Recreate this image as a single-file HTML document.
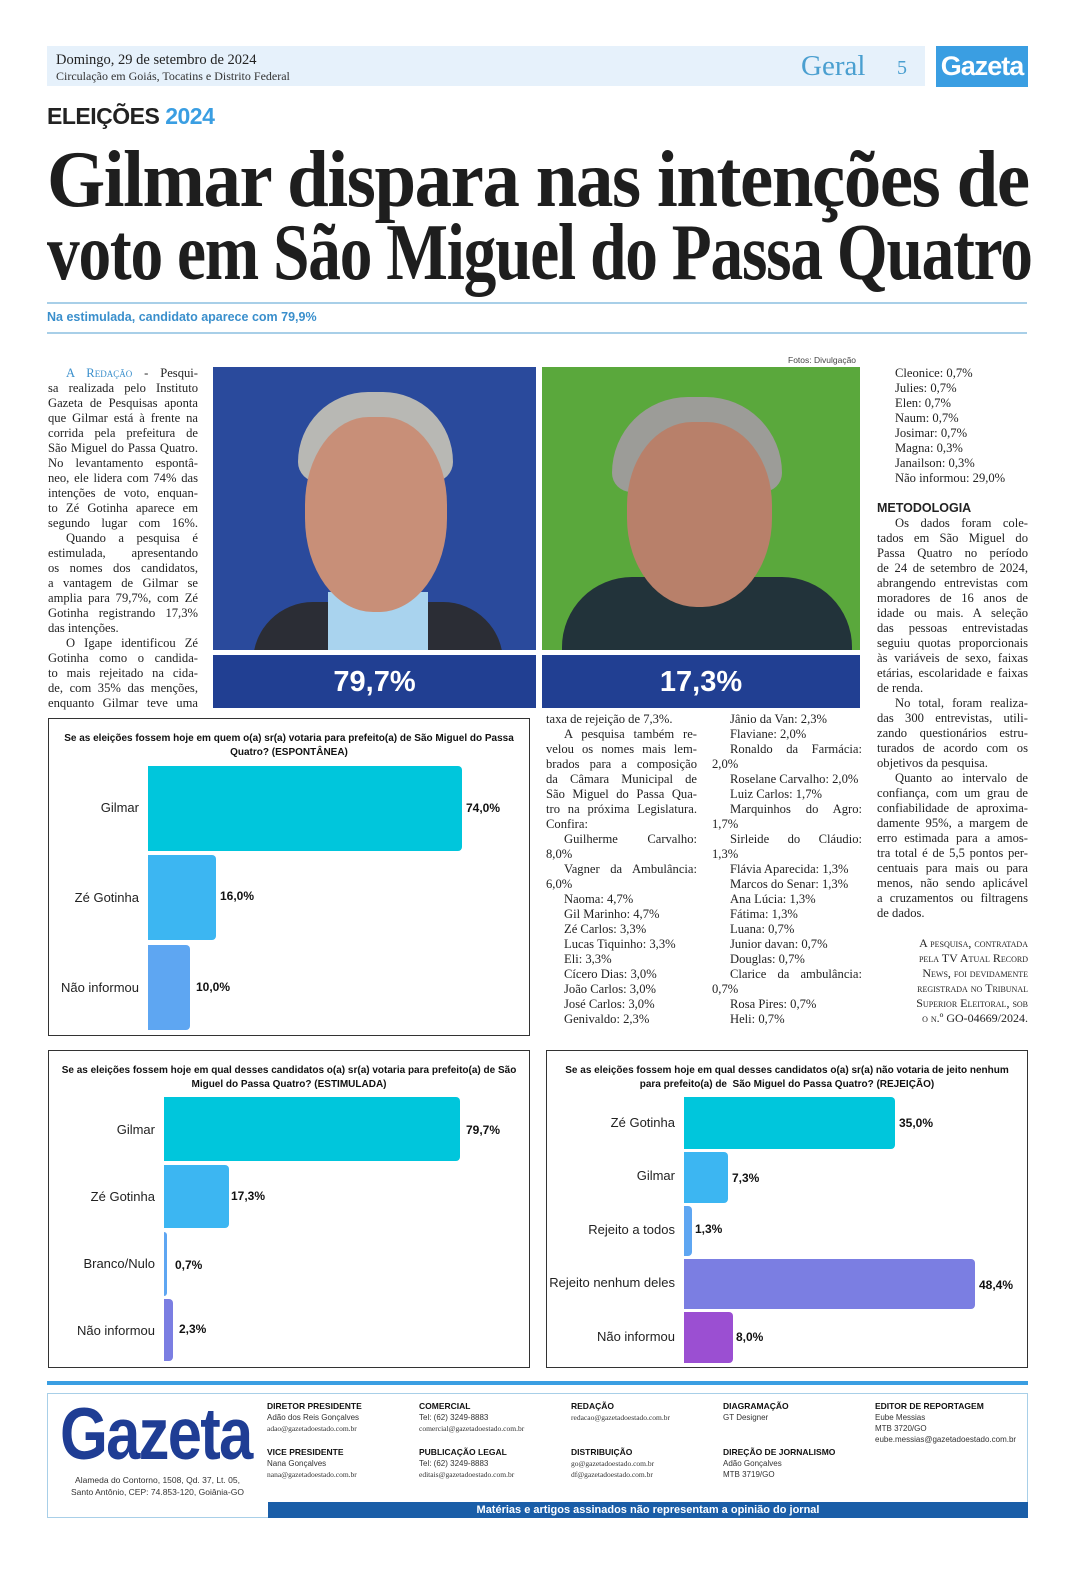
<!DOCTYPE html>
<html><head><meta charset="utf-8"><style>
*{margin:0;padding:0;box-sizing:border-box}
body{width:1080px;height:1576px;background:#fff;position:relative;overflow:hidden;font-family:"Liberation Serif",serif;color:#222}
.a{position:absolute}
.col div{height:15px;line-height:15px;font-size:12.6px;text-align:justify;text-align-last:justify;white-space:nowrap;overflow:visible}
.col div.e{text-align-last:left}
.col div.i{text-indent:18px}
.sans{font-family:"Liberation Sans",sans-serif}
.box{border:1.5px solid #333}
.ct{font-family:"Liberation Sans",sans-serif;font-weight:bold;font-size:10px;text-align:center;line-height:14px;color:#111}
.lb{font-family:"Liberation Sans",sans-serif;font-size:13px;color:#222;text-align:right}
.vl{font-family:"Liberation Sans",sans-serif;font-size:12px;font-weight:bold;color:#111}
.bar{position:absolute;border-radius:0 4px 4px 0}
.fh{font-family:"Liberation Sans",sans-serif;font-size:8.5px;font-weight:bold;color:#111;line-height:11px}
.fs{font-family:"Liberation Sans",sans-serif;font-size:8px;color:#333;line-height:11px}
.fm{font-family:"Liberation Serif",serif;font-size:7.5px;color:#333;line-height:11px}
.hl{position:absolute;left:47px;font-size:80px;font-weight:bold;line-height:80px;color:#1e1e1e;white-space:nowrap;letter-spacing:-1.5px;transform-origin:0 0}
</style></head><body>

<div class="a" style="left:47px;top:46px;width:878px;height:40px;background:#e6f1fb"></div>
<div class="a" style="left:56px;top:52px;font-size:14.5px;line-height:16px;color:#222">Domingo, 29 de setembro de 2024</div>
<div class="a" style="left:56px;top:69px;font-size:12px;line-height:14px;color:#333">Circulação em Goiás, Tocatins e Distrito Federal</div>
<div class="a" style="left:801px;top:48px;font-size:29px;color:#4a9fd0;line-height:36px">Geral</div>
<div class="a" style="left:897px;top:55px;font-size:20px;color:#4a9fd0;line-height:26px">5</div>
<div class="a sans" style="left:936px;top:46px;width:92px;height:41px;background:#3a9ee2;color:#fff;font-weight:bold;font-size:27px;line-height:41px;text-align:center;letter-spacing:-1px">Gazeta</div>

<div class="a sans" style="left:47px;top:102px;font-size:23px;font-weight:bold;color:#222;line-height:28px;letter-spacing:-0.5px">ELEIÇÕES <span style="color:#3a9ee2">2024</span></div>

<div class="hl" style="top:140px;transform:scaleX(0.935)">Gilmar dispara nas intenções de</div>
<div class="hl" style="top:213px;transform:scaleX(0.817)">voto em São Miguel do Passa Quatro</div>

<div class="a" style="left:47px;top:302px;width:980px;height:2px;background:#a8cfe8"></div>
<div class="a sans" style="left:47px;top:310px;font-size:12.5px;font-weight:bold;color:#3a8fcc">Na estimulada, candidato aparece com 79,9%</div>
<div class="a" style="left:47px;top:332px;width:980px;height:2px;background:#a8cfe8"></div>

<div class="a sans" style="left:788px;top:355px;font-size:8.5px;color:#444">Fotos: Divulgação</div>

<div class="a col" style="left:48px;top:366px;width:150px">
<div class="i"><span style="color:#3a8fcc;font-variant:small-caps">A Redação</span> - Pesqui-</div>
<div>sa realizada pelo Instituto</div>
<div>Gazeta de Pesquisas aponta</div>
<div>que Gilmar está à frente na</div>
<div>corrida pela prefeitura de</div>
<div>São Miguel do Passa Quatro.</div>
<div>No levantamento espontâ-</div>
<div>neo, ele lidera com 74% das</div>
<div>intenções de voto, enquan-</div>
<div>to Zé Gotinha aparece em</div>
<div>segundo lugar com 16%.</div>
<div class="i">Quando a pesquisa é</div>
<div>estimulada, apresentando</div>
<div>os nomes dos candidatos,</div>
<div>a vantagem de Gilmar se</div>
<div>amplia para 79,7%, com Zé</div>
<div>Gotinha registrando 17,3%</div>
<div class="e">das intenções.</div>
<div class="i">O Igape identificou Zé</div>
<div>Gotinha como o candida-</div>
<div>to mais rejeitado na cida-</div>
<div>de, com 35% das menções,</div>
<div>enquanto Gilmar teve uma</div>
</div>

<div class="a" style="left:213px;top:367px;width:323px;height:283px;background:#2a4a9c;overflow:hidden">
  <div class="a" style="left:40px;top:235px;width:250px;height:80px;background:#2b2d35;border-radius:60px 60px 0 0"></div>
  <div class="a" style="left:115px;top:225px;width:100px;height:70px;background:#a9d3ee"></div>
  <div class="a" style="left:85px;top:25px;width:155px;height:90px;background:#b8b8b4;border-radius:70px 70px 20px 20px"></div>
  <div class="a" style="left:92px;top:50px;width:142px;height:195px;background:#c88f78;border-radius:45% 45% 48% 48%"></div>
</div>
<div class="a" style="left:542px;top:367px;width:318px;height:283px;background:#5aa83c;overflow:hidden">
  <div class="a" style="left:20px;top:210px;width:290px;height:90px;background:#22333a;border-radius:70px 70px 0 0"></div>
  <div class="a" style="left:70px;top:30px;width:170px;height:95px;background:#9c9c98;border-radius:80px 80px 20px 20px"></div>
  <div class="a" style="left:85px;top:55px;width:145px;height:185px;background:#b8806a;border-radius:45% 45% 48% 48%"></div>
</div>
<div class="a sans" style="left:213px;top:655px;width:323px;height:53px;background:#213f92;color:#fff;font-weight:bold;font-size:29px;line-height:55px;text-align:center">79,7%</div>
<div class="a sans" style="left:542px;top:655px;width:318px;height:53px;background:#213f92;color:#fff;font-weight:bold;font-size:29px;line-height:55px;text-align:center">17,3%</div>

<div class="a col" style="left:877px;top:366px;width:151px">
<div class="i e">Cleonice: 0,7%</div>
<div class="i e">Julies: 0,7%</div>
<div class="i e">Elen: 0,7%</div>
<div class="i e">Naum: 0,7%</div>
<div class="i e">Josimar: 0,7%</div>
<div class="i e">Magna: 0,3%</div>
<div class="i e">Janailson: 0,3%</div>
<div class="i e">Não informou: 29,0%</div>
<div class="e"></div>
<div class="e sans" style="font-weight:bold;font-size:12.5px">METODOLOGIA</div>
<div class="i">Os dados foram cole-</div>
<div>tados em São Miguel do</div>
<div>Passa Quatro no período</div>
<div>de 24 de setembro de 2024,</div>
<div>abrangendo entrevistas com</div>
<div>moradores de 16 anos de</div>
<div>idade ou mais. A seleção</div>
<div>das pessoas entrevistadas</div>
<div>seguiu quotas proporcionais</div>
<div>às variáveis de sexo, faixas</div>
<div>etárias, escolaridade e faixas</div>
<div class="e">de renda.</div>
<div class="i">No total, foram realiza-</div>
<div>das 300 entrevistas, utili-</div>
<div>zando questionários estru-</div>
<div>turados de acordo com os</div>
<div class="e">objetivos da pesquisa.</div>
<div class="i">Quanto ao intervalo de</div>
<div>confiança, com um grau de</div>
<div>confiabilidade de aproxima-</div>
<div>damente 95%, a margem de</div>
<div>erro estimada para a amos-</div>
<div>tra total é de 5,5 pontos per-</div>
<div>centuais para mais ou para</div>
<div>menos, não sendo aplicável</div>
<div>a cruzamentos ou filtragens</div>
<div class="e">de dados.</div>
<div class="e"></div>
<div style="text-align:right;text-align-last:right;font-variant:small-caps;font-size:12px">A pesquisa, contratada</div>
<div style="text-align:right;text-align-last:right;font-variant:small-caps;font-size:12px">pela TV Atual Record</div>
<div style="text-align:right;text-align-last:right;font-variant:small-caps;font-size:12px">News, foi devidamente</div>
<div style="text-align:right;text-align-last:right;font-variant:small-caps;font-size:12px">registrada no Tribunal</div>
<div style="text-align:right;text-align-last:right;font-variant:small-caps;font-size:12px">Superior Eleitoral, sob</div>
<div style="text-align:right;text-align-last:right;font-variant:small-caps;font-size:12px">o n.º GO-04669/2024.</div>
</div>

<div class="a col" style="left:546px;top:712px;width:151px">
<div class="e">taxa de rejeição de 7,3%.</div>
<div class="i">A pesquisa também re-</div>
<div>velou os nomes mais lem-</div>
<div>brados para a composição</div>
<div>da Câmara Municipal de</div>
<div>São Miguel do Passa Qua-</div>
<div>tro na próxima Legislatura.</div>
<div class="e">Confira:</div>
<div class="i">Guilherme Carvalho:</div>
<div class="e">8,0%</div>
<div class="i">Vagner da Ambulância:</div>
<div class="e">6,0%</div>
<div class="i e">Naoma: 4,7%</div>
<div class="i e">Gil Marinho: 4,7%</div>
<div class="i e">Zé Carlos: 3,3%</div>
<div class="i e">Lucas Tiquinho: 3,3%</div>
<div class="i e">Eli: 3,3%</div>
<div class="i e">Cícero Dias: 3,0%</div>
<div class="i e">João Carlos: 3,0%</div>
<div class="i e">José Carlos: 3,0%</div>
<div class="i e">Genivaldo: 2,3%</div>
</div>
<div class="a col" style="left:712px;top:712px;width:150px">
<div class="i e">Jânio da Van: 2,3%</div>
<div class="i e">Flaviane: 2,0%</div>
<div class="i">Ronaldo da Farmácia:</div>
<div class="e">2,0%</div>
<div class="i e">Roselane Carvalho: 2,0%</div>
<div class="i e">Luiz Carlos: 1,7%</div>
<div class="i">Marquinhos do Agro:</div>
<div class="e">1,7%</div>
<div class="i">Sirleide do Cláudio:</div>
<div class="e">1,3%</div>
<div class="i e">Flávia Aparecida: 1,3%</div>
<div class="i e">Marcos do Senar: 1,3%</div>
<div class="i e">Ana Lúcia: 1,3%</div>
<div class="i e">Fátima: 1,3%</div>
<div class="i e">Luana: 0,7%</div>
<div class="i e">Junior davan: 0,7%</div>
<div class="i e">Douglas: 0,7%</div>
<div class="i">Clarice da ambulância:</div>
<div class="e">0,7%</div>
<div class="i e">Rosa Pires: 0,7%</div>
<div class="i e">Heli: 0,7%</div>
</div>

<div class="a box" style="left:48px;top:718px;width:482px;height:318px"></div>
<div class="a ct" style="left:50px;top:732px;width:478px">Se as eleições fossem hoje em quem o(a) sr(a) votaria para prefeito(a) de São Miguel do Passa<br>Quatro? (ESPONTÂNEA)</div>
<div class="bar" style="left:148px;top:766px;width:314px;height:85px;background:#00c6dc"></div>
<div class="bar" style="left:148px;top:855px;width:68px;height:85px;background:#3cb6f2"></div>
<div class="bar" style="left:148px;top:945px;width:42px;height:85px;background:#5ea6f2"></div>
<div class="a lb" style="left:50px;top:800px;width:89px">Gilmar</div>
<div class="a lb" style="left:50px;top:890px;width:89px">Zé Gotinha</div>
<div class="a lb" style="left:50px;top:980px;width:89px">Não informou</div>
<div class="a vl" style="left:466px;top:801px">74,0%</div>
<div class="a vl" style="left:220px;top:889px">16,0%</div>
<div class="a vl" style="left:196px;top:980px">10,0%</div>

<div class="a box" style="left:48px;top:1050px;width:482px;height:318px"></div>
<div class="a ct" style="left:50px;top:1064px;width:478px">Se as eleições fossem hoje em qual desses candidatos o(a) sr(a) votaria para prefeito(a) de São<br>Miguel do Passa Quatro? (ESTIMULADA)</div>
<div class="bar" style="left:164px;top:1097px;width:296px;height:64px;background:#00c6dc"></div>
<div class="bar" style="left:164px;top:1165px;width:65px;height:63px;background:#3cb6f2"></div>
<div class="bar" style="left:164px;top:1232px;width:3px;height:64px;background:#5ea6f2"></div>
<div class="bar" style="left:164px;top:1299px;width:9px;height:62px;background:#7b7ee2"></div>
<div class="a lb" style="left:50px;top:1122px;width:105px">Gilmar</div>
<div class="a lb" style="left:50px;top:1189px;width:105px">Zé Gotinha</div>
<div class="a lb" style="left:50px;top:1256px;width:105px">Branco/Nulo</div>
<div class="a lb" style="left:50px;top:1323px;width:105px">Não informou</div>
<div class="a vl" style="left:466px;top:1123px">79,7%</div>
<div class="a vl" style="left:231px;top:1189px">17,3%</div>
<div class="a vl" style="left:175px;top:1258px">0,7%</div>
<div class="a vl" style="left:179px;top:1322px">2,3%</div>

<div class="a box" style="left:546px;top:1050px;width:482px;height:318px"></div>
<div class="a ct" style="left:548px;top:1064px;width:478px">Se as eleições fossem hoje em qual desses candidatos o(a) sr(a) não votaria de jeito nenhum<br>para prefeito(a) de &nbsp;São Miguel do Passa Quatro? (REJEIÇÃO)</div>
<div class="bar" style="left:684px;top:1097px;width:211px;height:52px;background:#00c6dc"></div>
<div class="bar" style="left:684px;top:1152px;width:44px;height:51px;background:#3cb6f2"></div>
<div class="bar" style="left:684px;top:1206px;width:8px;height:50px;background:#5ea6f2"></div>
<div class="bar" style="left:684px;top:1259px;width:291px;height:50px;background:#7b7ee2"></div>
<div class="bar" style="left:684px;top:1312px;width:49px;height:51px;background:#9b4fd2"></div>
<div class="a lb" style="left:548px;top:1115px;width:127px">Zé Gotinha</div>
<div class="a lb" style="left:548px;top:1168px;width:127px">Gilmar</div>
<div class="a lb" style="left:548px;top:1222px;width:127px">Rejeito a todos</div>
<div class="a lb" style="left:548px;top:1275px;width:127px">Rejeito nenhum deles</div>
<div class="a lb" style="left:548px;top:1329px;width:127px">Não informou</div>
<div class="a vl" style="left:899px;top:1116px">35,0%</div>
<div class="a vl" style="left:732px;top:1171px">7,3%</div>
<div class="a vl" style="left:695px;top:1222px">1,3%</div>
<div class="a vl" style="left:979px;top:1278px">48,4%</div>
<div class="a vl" style="left:736px;top:1330px">8,0%</div>

<div class="a" style="left:47px;top:1381px;width:981px;height:4px;background:#3a9ee2"></div>
<div class="a" style="left:47px;top:1393px;width:981px;height:125px;border:1px solid #a8cfe8"></div>
<div class="a sans" style="left:60px;top:1394px;font-size:70px;font-weight:bold;color:#1f3d94;letter-spacing:-2px;line-height:76px;transform:scale(0.88,1.05);transform-origin:0 0">Gazeta</div>
<div class="a sans" style="left:50px;top:1474px;width:215px;text-align:center;font-size:8.5px;line-height:12px;color:#333">Alameda do Contorno, 1508, Qd. 37, Lt. 05,<br>Santo Antônio, CEP: 74.853-120, Goiânia-GO</div>

<div class="a" style="left:267px;top:1401px"><div class="fh">DIRETOR PRESIDENTE</div><div class="fs">Adão dos Reis Gonçalves</div><div class="fm">adao@gazetadoestado.com.br</div></div>
<div class="a" style="left:267px;top:1447px"><div class="fh">VICE PRESIDENTE</div><div class="fs">Nana Gonçalves</div><div class="fm">nana@gazetadoestado.com.br</div></div>
<div class="a" style="left:419px;top:1401px"><div class="fh">COMERCIAL</div><div class="fs">Tel: (62) 3249-8883</div><div class="fm">comercial@gazetadoestado.com.br</div></div>
<div class="a" style="left:419px;top:1447px"><div class="fh">PUBLICAÇÃO LEGAL</div><div class="fs">Tel: (62) 3249-8883</div><div class="fm">editais@gazetadoestado.com.br</div></div>
<div class="a" style="left:571px;top:1401px"><div class="fh">REDAÇÃO</div><div class="fm">redacao@gazetadoestado.com.br</div></div>
<div class="a" style="left:571px;top:1447px"><div class="fh">DISTRIBUIÇÃO</div><div class="fm">go@gazetadoestado.com.br</div><div class="fm">df@gazetadoestado.com.br</div></div>
<div class="a" style="left:723px;top:1401px"><div class="fh">DIAGRAMAÇÃO</div><div class="fs">GT Designer</div></div>
<div class="a" style="left:723px;top:1447px"><div class="fh">DIREÇÃO DE JORNALISMO</div><div class="fs">Adão Gonçalves</div><div class="fs">MTB 3719/GO</div></div>
<div class="a" style="left:875px;top:1401px"><div class="fh">EDITOR DE REPORTAGEM</div><div class="fs">Eube Messias</div><div class="fs">MTB 3720/GO</div><div class="fs">eube.messias@gazetadoestado.com.br</div></div>

<div class="a sans" style="left:268px;top:1502px;width:760px;height:16px;background:#1a5ea8;color:#fff;font-size:11px;font-weight:bold;text-align:center;line-height:16px">Matérias e artigos assinados não representam a opinião do jornal</div>
</body></html>
